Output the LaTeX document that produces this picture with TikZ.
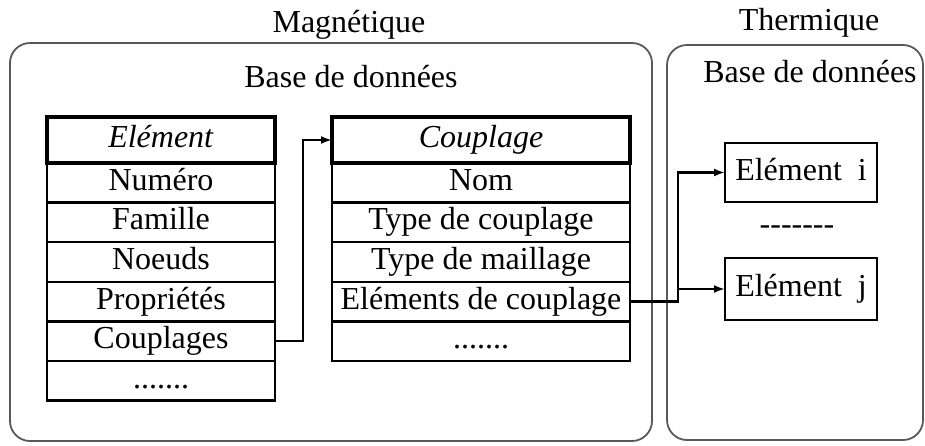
\documentclass[tikz,border=0pt]{standalone}
\usepackage{fontspec}
\setmainfont{Liberation Serif}
\usepackage{tikz}
\usetikzlibrary{arrows.meta,positioning}

\begin{document}
\begin{tikzpicture}[
  x=1pt, y=-1pt,
  every node/.style={font=\fontsize{32}{36}\selectfont, outer sep=0pt, inner sep=0pt},
  frame/.style={draw=black!65, line width=1.8pt, rounded corners=20pt},
  head/.style={draw, line width=4pt, anchor=north, minimum height=46pt, text height=22pt, text depth=7pt},
  cell/.style={draw, line width=2.4pt, minimum height=39.6pt, text height=22pt, text depth=7pt},
  elt/.style={draw, line width=2.4pt, minimum width=152pt, text height=22pt, text depth=7pt},
  link/.style={-{Latex[length=11pt,width=8pt]}, line width=2.4pt},
  node distance=0pt
]
  \useasboundingbox (0,0) rectangle (925,445);

  % the two databases
  \node[frame, minimum width=642pt, minimum height=398pt] (magbox) at (331,242) {};
  \node[frame, minimum width=256pt, minimum height=395pt] (thbox) at (795,242.5) {};
  \node[anchor=base] (magtitle) at (349,32) {Magnétique};
  \node[anchor=base] (thtitle) at (809,30) {Thermique};
  \node[anchor=base] (magbase) at (351,87) {Base de données};
  \node[anchor=base] (thbase) at (810,82) {Base de données};

  % table Element
  \node[head, minimum width=228pt] (element) at (161,117) {\textit{Elément}};
  \node[cell, minimum width=228pt, below=of element] (numero) {Numéro};
  \node[cell, minimum width=228pt, below=of numero] (famille) {Famille};
  \node[cell, minimum width=228pt, below=of famille] (noeuds) {Noeuds};
  \node[cell, minimum width=228pt, below=of noeuds] (proprietes) {Propriétés};
  \node[cell, minimum width=228pt, below=of proprietes] (couplages) {Couplages};
  \node[cell, minimum width=228pt, below=of couplages] (elemdots) {.......};

  % table Couplage
  \node[head, minimum width=298pt] (couplage) at (481,117) {\textit{Couplage}};
  \node[cell, minimum width=298pt, below=of couplage] (nom) {Nom};
  \node[cell, minimum width=298pt, below=of nom] (typecpl) {Type de couplage};
  \node[cell, minimum width=298pt, below=of typecpl] (typemail) {Type de maillage};
  \node[cell, minimum width=298pt, below=of typemail] (eltcpl) {Eléments de couplage};
  \node[cell, minimum width=298pt, below=of eltcpl] (cpldots) {.......};

  % thermal elements
  \node[elt, minimum height=59pt] (elti) at (801,172.5) {Elément\ \ i};
  \node[elt, minimum height=62pt] (eltj) at (801,289) {Elément\ \ j};
  \node (thdots) at (797,230) {-{}-{}-{}-{}-{}-{}-};

  \draw[link] (couplages.east) -- ++(28,0) |- (couplage.west);
  \draw[link] (eltcpl.east) -- ++(48,0) coordinate (split) |- (elti.west);
  \draw[link] (split) |- (eltj.west);
\end{tikzpicture}
\end{document}
